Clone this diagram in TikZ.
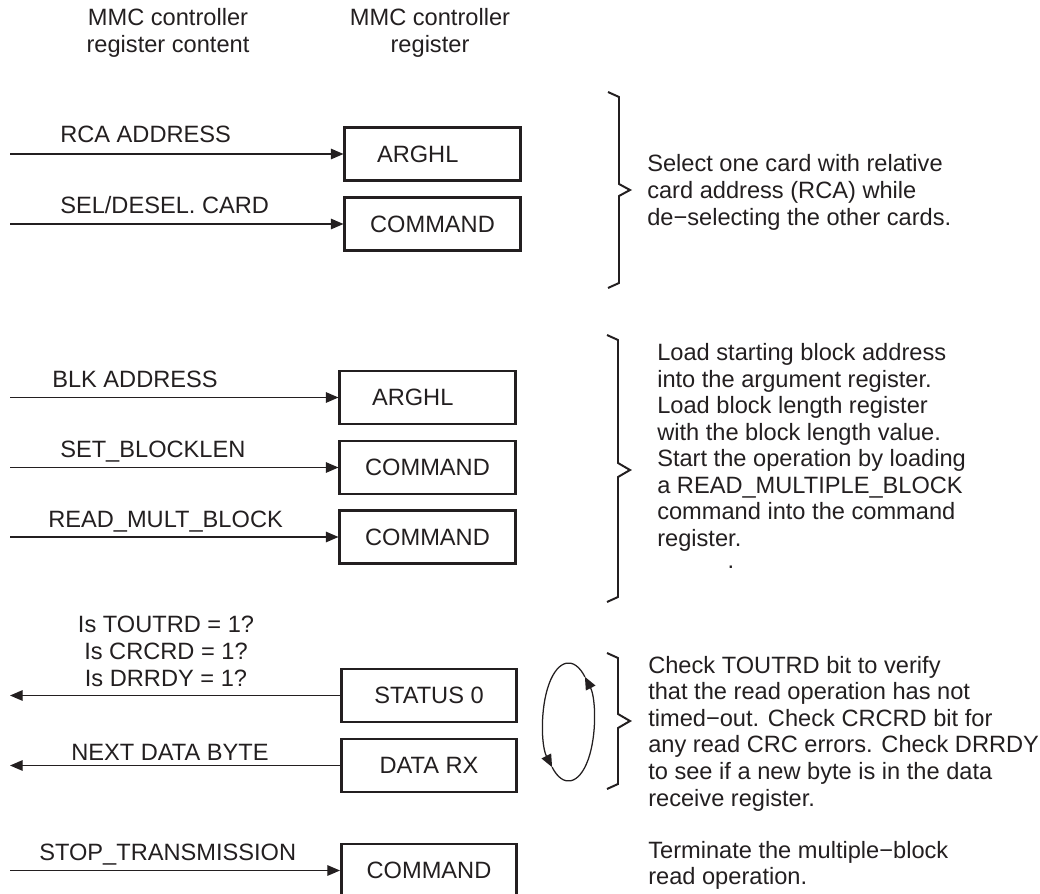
\documentclass[tikz,border=0pt]{standalone}
\usepackage{fontspec}
\setmainfont{Liberation Sans}
\usetikzlibrary{arrows.meta}
\definecolor{ink}{HTML}{231F20}

\begin{document}
\begin{tikzpicture}[x=0.025cm,y=-0.025cm,
    every node/.style={inner sep=0pt,text=ink,font=\fontsize{16.8pt}{18.85pt}\selectfont},
    reg/.style={draw=ink,line width=2.1pt,minimum width=124.5pt,minimum height=37.7pt},
    feed/.style={draw=ink,line width=0.9pt,-{Triangle[length=9pt,width=7.5pt]}},
    curly/.style={draw=ink,line width=1.4pt},
    sig/.style={anchor=base west},
    head/.style={anchor=base,align=center},
    note/.style={anchor=base west,align=left}]

        \clip (0,0) rectangle (1040,894);

        \node[head] (hcont) at (168,52.5) {MMC controller\\register content};
        \node[head] (hreg) at (430,52.5) {MMC controller\\register};

        \node[reg] (arg1) at (432.5,154) {ARGHL\hspace*{21pt}};
        \node[reg] (cmd1) at (432.5,224) {COMMAND};
        \node[reg] (arg2) at (427.5,397.5) {ARGHL\hspace*{21pt}};
        \node[reg] (cmd2) at (427.5,467.5) {COMMAND};
        \node[reg] (cmd3) at (427.5,537) {COMMAND};
        \node[reg] (stat) at (429,695.5) {STATUS 0};
        \node[reg] (drx) at (429,765.5) {DATA RX};
        \node[reg] (cmd4) at (429,870.5) {COMMAND};

        \coordinate (in1) at (10,154);
        \coordinate (in2) at (10,224);
        \coordinate (in3) at (10,397.5);
        \coordinate (in4) at (10,467.5);
        \coordinate (in5) at (10,537);
        \coordinate (out1) at (10,695.5);
        \coordinate (out2) at (10,765.5);
        \coordinate (in6) at (10,870.5);

        \draw[feed] (in1) -- (arg1);
        \draw[feed] (in2) -- (cmd1);
        \draw[feed] (in3) -- (arg2);
        \draw[feed] (in4) -- (cmd2);
        \draw[feed] (in5) -- (cmd3);
        \draw[feed] (stat) -- (out1);
        \draw[feed] (drx) -- (out2);
        \draw[feed] (in6) -- (cmd4);

        \node[sig] (rca) at (60,142) {RCA ADDRESS};
        \node[sig] (sel) at (60,213) {SEL/DESEL. CARD};
        \node[sig] (blk) at (52,387) {BLK ADDRESS};
        \node[sig] (setbl) at (60,457) {SET\_BLOCKLEN};
        \node[sig] (rdmb) at (48,527) {READ\_MULT\_BLOCK};
        \node[head] (isq) at (166,686) {Is TOUTRD = 1?\\Is CRCRD = 1?\\Is DRRDY = 1?};
        \node[sig] (nxt) at (71,760) {NEXT DATA BYTE};
        \node[sig] (stop) at (39,860) {STOP\_TRANSMISSION};

        \draw[curly] (608,92) -- (619,97) -- (619,184) -- (630,190) -- (619,196) -- (619,283) -- (608,288);
        \draw[curly] (607,335) -- (618,340) -- (618,463) -- (630,470) -- (618,477) -- (618,597) -- (607,602);
        \draw[curly] (607,653) -- (618,658) -- (618,714) -- (630,721) -- (618,728) -- (618,784) -- (607,789);

        \coordinate (loop) at (568.5,722);
        \draw[feed] (loop) ++(130:25.5 and 59) arc[start angle=130,end angle=-50,x radius=25.5,y radius=59];
        \draw[feed] (loop) ++(-50:25.5 and 59) arc[start angle=-50,end angle=-230,x radius=25.5,y radius=59];

        \node[note] (dsel) at (647,225) {Select one card with relative\\card address (RCA) while\\de−selecting the other cards.};
        \node[note] (dload) at (657,568) {Load starting block address\\into the argument register.\\Load block length register\\with the block length value.\\Start the operation by loading\\a READ\_MULTIPLE\_BLOCK\\command into the command\\register.\\[-3.5pt]\hspace*{50pt}.};
        \node[note] (dchk) at (648,806) {Check TOUTRD bit to verify\\that the read operation has not\\timed−out. Check CRCRD bit for\\any read CRC errors. Check DRRDY\\to see if a new byte is in the data\\receive register.};
        \node[note] (dterm) at (648,884.5) {Terminate the multiple−block\\read operation.};

\end{tikzpicture}
\end{document}
